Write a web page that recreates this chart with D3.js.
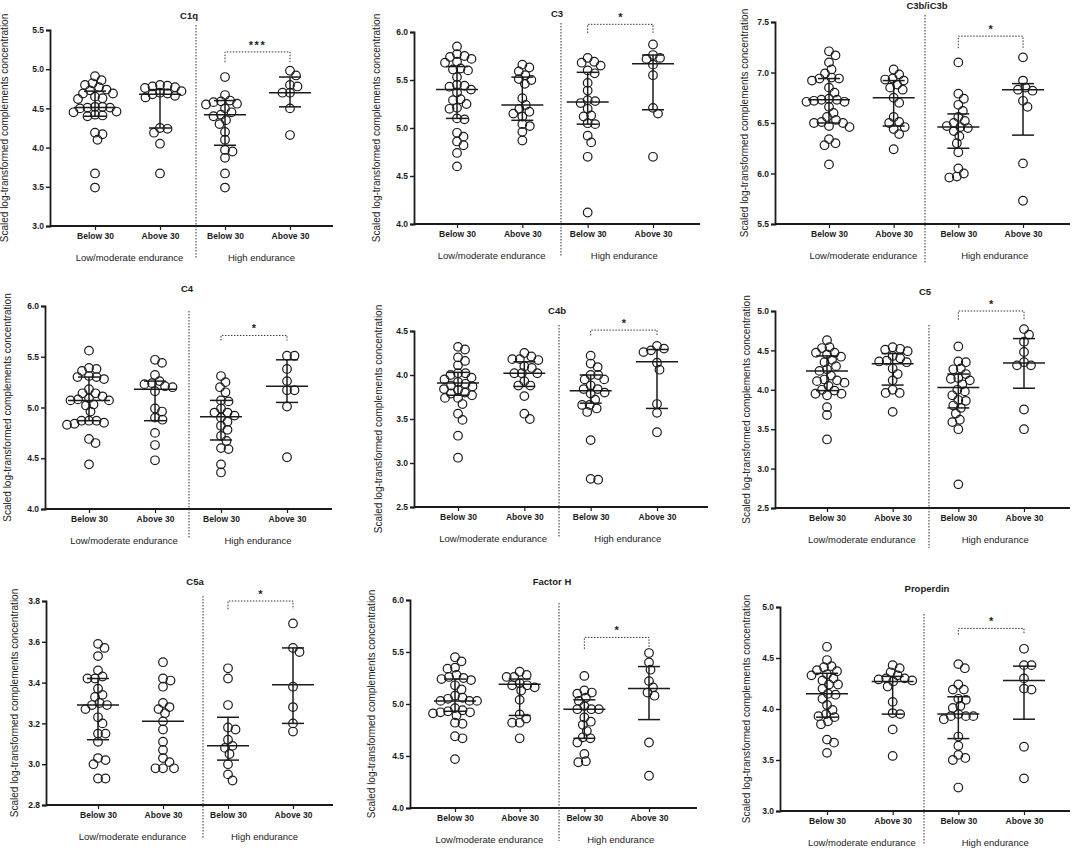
<!DOCTYPE html>
<html>
<head>
<meta charset="utf-8">
<script src="https://cdn.jsdelivr.net/npm/d3@7"></script>
<style>
  body { margin: 0; background: #fff; }
  svg { display: block; font-family: "Liberation Sans", Arial, sans-serif; }
</style>
</head>
<body>
<svg id="chart" width="1072" height="851"></svg>
<script>
// ---- data ----
const categories = ["Below 30", "Above 30", "Below 30 ", "Above 30 "];
const groupLabels = ["Low/moderate endurance", "High endurance"];
const yLabel = "Scaled log-transformed complements concentration";

const titles = ["C1q", "C3", "C3b/iC3b", "C4", "C4b", "C5", "C5a", "Factor H", "Properdin"];
const yDomains = [[3.0, 5.5], [4.0, 6.0], [5.5, 7.5], [4.0, 6.0], [2.5, 4.5], [2.5, 5.0], [2.8, 3.8], [4.0, 6.0], [3.0, 5.0]];
const yTickSteps = [0.5, 0.5, 0.5, 0.5, 0.5, 0.5, 0.2, 0.5, 0.5];
const stars = ["***", "*", "*", "*", "*", "*", "*", "*", "*"];
// bracket level and end of its drops, in data units
const brackets = [[5.22, 5.09], [6.08, 5.99], [7.36, 7.24], [5.71, 5.66], [4.51, 4.45], [5.0, 4.89], [3.80, 3.76], [5.64, 5.53], [4.79, 4.73]];

const C1q = [
  [4.91,4.86,4.82,4.80,4.77,4.74,4.73,4.69,4.69,4.65,4.63,4.62,4.52,4.52,4.51,4.51,4.50,4.46,4.45,4.42,4.41,4.40,4.19,4.17,4.10,3.67,3.49],
  [4.80,4.79,4.78,4.77,4.76,4.72,4.70,4.69,4.68,4.66,4.64,4.25,4.24,4.19,4.05,3.67],
  [4.90,4.67,4.60,4.59,4.58,4.56,4.55,4.50,4.45,4.42,4.40,4.35,4.30,4.20,4.10,3.97,3.95,3.87,3.67,3.49],
  [4.98,4.92,4.80,4.78,4.70,4.70,4.50,4.16]
];
const C3 = [
  [5.85,5.77,5.75,5.74,5.72,5.69,5.68,5.62,5.61,5.60,5.53,5.45,5.44,5.43,5.40,5.37,5.30,5.29,5.25,5.21,5.20,5.10,5.09,4.95,4.91,4.86,4.82,4.74,4.60],
  [5.66,5.63,5.59,5.55,5.51,5.50,5.46,5.31,5.24,5.20,5.17,5.15,5.12,5.04,5.02,4.96,4.87],
  [5.73,5.69,5.68,5.65,5.60,5.57,5.47,5.39,5.29,5.28,5.26,5.20,5.13,5.12,5.05,5.04,4.92,4.85,4.70,4.12],
  [5.87,5.76,5.73,5.72,5.66,5.55,5.21,5.15,4.70]
];
const C3b = [
  [7.21,7.17,7.10,7.03,6.99,6.95,6.94,6.94,6.92,6.85,6.80,6.74,6.73,6.73,6.72,6.71,6.71,6.66,6.60,6.56,6.53,6.51,6.50,6.50,6.47,6.46,6.34,6.30,6.28,6.09],
  [7.03,6.98,6.94,6.93,6.92,6.88,6.85,6.83,6.75,6.70,6.56,6.51,6.50,6.46,6.44,6.39,6.24],
  [7.10,6.79,6.74,6.68,6.62,6.56,6.52,6.50,6.47,6.46,6.45,6.42,6.37,6.30,6.21,6.05,6.00,5.97,5.96],
  [7.15,6.92,6.85,6.83,6.82,6.72,6.66,6.10,5.73]
];
const C4 = [
  [5.56,5.39,5.38,5.36,5.31,5.30,5.30,5.28,5.18,5.14,5.14,5.11,5.09,5.08,5.07,5.07,5.03,5.02,4.96,4.87,4.87,4.87,4.85,4.84,4.83,4.69,4.65,4.44],
  [5.47,5.44,5.32,5.26,5.24,5.23,5.21,5.20,5.16,4.99,4.96,4.90,4.88,4.75,4.63,4.48],
  [5.31,5.25,5.20,5.15,5.07,5.06,4.99,4.95,4.95,4.92,4.90,4.86,4.82,4.78,4.72,4.67,4.60,4.59,4.44,4.36],
  [5.51,5.51,5.38,5.26,5.17,5.17,5.01,4.51]
];
const C4b = [
  [4.32,4.29,4.20,4.16,4.11,4.02,4.02,4.00,3.97,3.95,3.92,3.90,3.88,3.87,3.84,3.83,3.80,3.79,3.77,3.74,3.74,3.67,3.56,3.49,3.31,3.06],
  [4.25,4.21,4.18,4.18,4.17,4.10,4.08,4.02,4.02,4.02,3.93,3.88,3.88,3.76,3.56,3.50],
  [4.22,4.13,4.09,4.00,4.00,3.95,3.95,3.88,3.84,3.84,3.80,3.79,3.72,3.66,3.66,3.62,3.58,3.26,2.82,2.81],
  [4.33,4.30,4.28,4.26,4.14,4.06,3.67,3.57,3.35]
];
const C5 = [
  [4.63,4.54,4.53,4.47,4.47,4.45,4.42,4.38,4.35,4.30,4.26,4.24,4.18,4.13,4.12,4.11,4.09,4.05,4.00,3.99,3.95,3.95,3.93,3.78,3.68,3.37],
  [4.54,4.52,4.51,4.49,4.43,4.40,4.37,4.36,4.35,4.27,4.20,4.12,4.00,3.96,3.96,3.72],
  [4.55,4.36,4.35,4.27,4.26,4.20,4.15,4.14,4.12,4.07,4.00,3.98,3.93,3.87,3.86,3.80,3.77,3.70,3.62,3.59,3.50,2.80],
  [4.77,4.70,4.61,4.48,4.35,4.31,4.31,3.75,3.50]
];
const C5a = [
  [3.59,3.57,3.53,3.46,3.43,3.42,3.42,3.37,3.34,3.33,3.30,3.29,3.29,3.27,3.23,3.20,3.15,3.15,3.11,3.03,3.02,3.00,2.93,2.93],
  [3.50,3.42,3.41,3.38,3.30,3.28,3.27,3.25,3.21,3.17,3.11,3.07,3.03,3.01,2.98,2.98,2.98],
  [3.47,3.42,3.29,3.18,3.17,3.12,3.09,3.08,3.05,3.00,2.95,2.92],
  [3.69,3.57,3.55,3.38,3.28,3.20,3.16]
];
const factorH = [
  [5.45,5.41,5.35,5.34,5.28,5.26,5.25,5.24,5.23,5.18,5.14,5.08,5.06,5.05,5.03,5.03,5.03,4.96,4.94,4.93,4.92,4.92,4.91,4.89,4.82,4.81,4.69,4.67,4.47],
  [5.31,5.28,5.26,5.26,5.20,5.18,5.18,5.16,5.13,5.04,4.90,4.86,4.82,4.82,4.67],
  [5.27,5.13,5.11,5.10,5.06,5.03,4.98,4.95,4.95,4.95,4.87,4.83,4.80,4.74,4.68,4.67,4.63,4.52,4.45,4.44],
  [5.49,5.40,5.33,5.22,5.16,5.11,5.08,4.63,4.31]
];
const properdin = [
  [4.61,4.48,4.42,4.41,4.38,4.37,4.34,4.33,4.30,4.28,4.24,4.24,4.20,4.15,4.14,4.10,4.04,3.99,3.95,3.93,3.92,3.88,3.85,3.70,3.67,3.57],
  [4.43,4.40,4.36,4.33,4.30,4.30,4.29,4.28,4.27,4.22,4.07,3.96,3.95,3.80,3.54],
  [4.44,4.40,4.24,4.19,4.19,4.10,4.09,4.03,4.01,3.95,3.93,3.93,3.93,3.90,3.73,3.64,3.55,3.52,3.50,3.23],
  [4.59,4.43,4.43,4.30,4.20,4.19,3.63,3.32]
];
const values = [C1q, C3, C3b, C4, C4b, C5, C5a, factorH, properdin];

// median, lower quartile, upper quartile per group
const stats = [
  [[4.51,4.40,4.72],[4.68,4.25,4.74],[4.42,4.03,4.60],[4.70,4.52,4.90]],
  [[5.40,5.10,5.64],[5.24,5.08,5.53],[5.27,5.04,5.58],[5.67,5.19,5.76]],
  [[6.73,6.50,6.94],[6.75,6.47,6.92],[6.46,6.25,6.59],[6.83,6.38,6.89]],
  [[5.07,4.87,5.30],[5.18,4.87,5.26],[4.91,4.68,5.07],[5.21,5.05,5.47]],
  [[3.91,3.77,4.03],[4.02,3.87,4.15],[3.82,3.68,4.00],[4.15,3.62,4.29]],
  [[4.24,3.99,4.43],[4.33,4.06,4.46],[4.03,3.77,4.20],[4.34,4.02,4.65]],
  [[3.29,3.12,3.42],[3.21,null,null],[3.09,3.02,3.23],[3.39,3.20,3.57]],
  [[5.03,4.93,5.24],[5.19,4.89,5.24],[4.95,4.67,5.04],[5.15,4.85,5.36]],
  [[4.15,3.92,4.35],[4.27,3.95,4.32],[3.95,3.71,4.12],[4.28,3.90,4.42]]
];

// ---- layout of each panel (pixels) ----
const layout = [
  {left: 50,  right: 333,  top: 30,  bottom: 226, c0: 95,  c3: 290,  tx: 189, ty: 19,  lx: 5,   div: 196, d0: 25,  d1: 258},
  {left: 414, right: 700,  top: 32,  bottom: 224, c0: 457, c3: 653,  tx: 557, ty: 17,  lx: 377, div: 561, d0: 23,  d1: 257},
  {left: 775, right: 1070, top: 22,  bottom: 224, c0: 829, c3: 1023, tx: 927, ty: 9,   lx: 745, div: 925, d0: 15,  d1: 263},
  {left: 45,  right: 332,  top: 306, bottom: 509, c0: 89,  c3: 287,  tx: 187, ty: 292, lx: 8,   div: 189, d0: 311, d1: 538},
  {left: 414, right: 708,  top: 331, bottom: 507, c0: 458, c3: 657,  tx: 557, ty: 314, lx: 379, div: 559, d0: 325, d1: 537},
  {left: 775, right: 1070, top: 311, bottom: 508, c0: 827, c3: 1024, tx: 925, ty: 295, lx: 747, div: 929, d0: 325, d1: 548},
  {left: 46,  right: 333,  top: 601, bottom: 805, c0: 98,  c3: 293,  tx: 195, ty: 585, lx: 15,  div: 203, d0: 596, d1: 839},
  {left: 410, right: 697,  top: 600, bottom: 808, c0: 455, c3: 649,  tx: 552, ty: 585, lx: 372, div: 559, d0: 603, d1: 841},
  {left: 780, right: 1070, top: 607, bottom: 811, c0: 827, c3: 1024, tx: 927, ty: 592, lx: 747, div: 924, d0: 614, d1: 844}
];

const ink = "#1b1b1b";
const r = 4.3;

// simple beeswarm: smallest horizontal offset that avoids heavy overlaps
function swarm(vals, y) {
  const pts = vals.map(v => ({v, y: y(v), dx: 0})).sort((a, b) => a.y - b.y);
  const placed = [];
  const minD = 7.4;
  for (const p of pts) {
    for (let k = 0; k < 400; k++) {
      const off = (k % 2 ? 1 : -1) * Math.ceil(k / 2) * 0.5;
      const ok = placed.every(q => (off - q.dx) ** 2 + (p.y - q.y) ** 2 >= minD * minD);
      if (ok) { p.dx = off; break; }
    }
    placed.push(p);
  }
  return pts;
}

const svg = d3.select("#chart");

titles.forEach((title, i) => {
  const L = layout[i];
  const g = svg.append("g");

  const y = d3.scaleLinear().domain(yDomains[i]).range([L.bottom, L.top]);
  const x = d3.scalePoint().domain(categories).range([L.c0, L.c3]);

  const [lo, hi] = yDomains[i];
  const ticks = d3.range(0, Math.round((hi - lo) / yTickSteps[i]) + 1).map(k => lo + k * yTickSteps[i]);

  // y axis
  const yAxis = g.append("g")
    .attr("transform", `translate(${L.left},0)`)
    .call(d3.axisLeft(y).tickValues(ticks).tickFormat(d3.format(".1f")).tickSizeOuter(0).tickSize(4).tickPadding(2));
  yAxis.select(".domain").attr("stroke", ink).attr("stroke-width", 1.8);
  yAxis.selectAll(".tick line").attr("stroke", ink).attr("stroke-width", 1.4);
  yAxis.selectAll(".tick text")
    .attr("fill", ink).attr("font-size", 8.5).attr("font-weight", "bold")
    .attr("font-family", "Liberation Sans, Arial, sans-serif");

  // x axis
  const xAxis = g.append("g")
    .attr("transform", `translate(0,${L.bottom})`)
    .call(d3.axisBottom(x).tickSize(4).tickSizeOuter(0).tickPadding(3));
  xAxis.select(".domain").attr("d", `M${L.left},0H${L.right}`).attr("stroke", ink).attr("stroke-width", 1.8);
  xAxis.selectAll(".tick line").attr("stroke", ink).attr("stroke-width", 1.2);
  xAxis.selectAll(".tick text")
    .attr("fill", ink).attr("font-size", 8.5).attr("font-weight", "bold")
    .attr("font-family", "Liberation Sans, Arial, sans-serif");

  // group labels
  const gx = [(x(categories[0]) + x(categories[1])) / 2 + 2, (x(categories[2]) + x(categories[3])) / 2 + 4];
  groupLabels.forEach((lab, j) => {
    g.append("text")
      .attr("x", gx[j]).attr("y", L.bottom + 35)
      .attr("text-anchor", "middle").attr("font-size", 9.5).attr("fill", "#222")
      .text(lab);
  });

  // divider
  g.append("line")
    .attr("x1", L.div).attr("x2", L.div).attr("y1", L.d0).attr("y2", L.d1)
    .attr("stroke", "#333").attr("stroke-width", 1).attr("stroke-dasharray", "1.5,1.5");

  // title
  g.append("text")
    .attr("x", L.tx).attr("y", L.ty)
    .attr("text-anchor", "middle").attr("font-size", 9.5).attr("font-weight", "bold").attr("fill", ink)
    .text(title);

  // y label
  g.append("text")
    .attr("transform", `translate(${L.lx},${(L.top + L.bottom) / 2}) rotate(-90)`)
    .attr("text-anchor", "middle").attr("dominant-baseline", "middle")
    .attr("font-size", 10).attr("fill", "#222")
    .text(yLabel);

  // points
  values[i].forEach((vals, j) => {
    const cx = x(categories[j]);
    const pts = swarm(vals, y);
    g.append("g").selectAll("circle").data(pts).join("circle")
      .attr("cx", d => cx + d.dx).attr("cy", d => d.y).attr("r", r)
      .attr("fill", "none").attr("stroke", ink).attr("stroke-width", 1.2);

    // median with interquartile range
    const [med, q1, q3] = stats[i][j];
    const s = g.append("g").attr("stroke", ink).attr("stroke-width", 1.5);
    if (q1 != null) {
      s.append("line").attr("x1", cx).attr("x2", cx).attr("y1", y(q1)).attr("y2", y(q3));
      s.append("line").attr("x1", cx - 11).attr("x2", cx + 11).attr("y1", y(q1)).attr("y2", y(q1));
      s.append("line").attr("x1", cx - 11).attr("x2", cx + 11).attr("y1", y(q3)).attr("y2", y(q3));
    }
    s.append("line").attr("x1", cx - 21).attr("x2", cx + 21).attr("y1", y(med)).attr("y2", y(med));
  });

  // significance bracket
  const [bl, bd] = brackets[i];
  const xa = x(categories[2]), xb = x(categories[3]);
  g.append("path")
    .attr("d", `M${xa},${y(bd)}V${y(bl)}H${xb}V${y(bd)}`)
    .attr("fill", "none").attr("stroke", "#333").attr("stroke-width", 1).attr("stroke-dasharray", "1.5,1.5");
  g.append("text")
    .attr("x", (xa + xb) / 2).attr("y", y(bl) - 3)
    .attr("text-anchor", "middle").attr("font-size", 11).attr("font-weight", "bold")
    .attr("letter-spacing", stars[i].length > 1 ? 1.5 : 0).attr("fill", ink)
    .text(stars[i]);
});
</script>
</body>
</html>
